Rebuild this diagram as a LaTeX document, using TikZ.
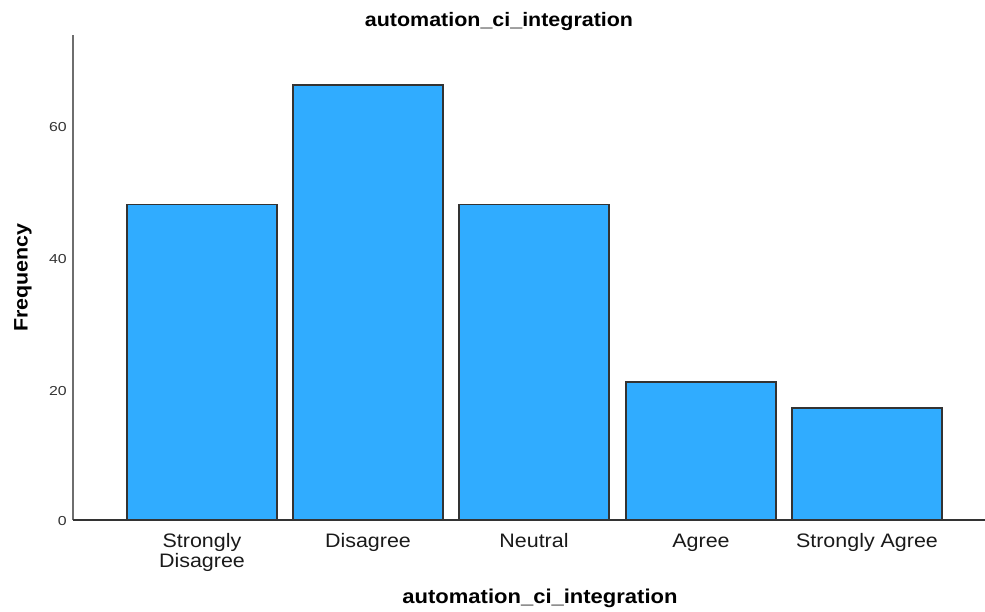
\documentclass[tikz,border=0pt]{standalone}
\usepackage{fontspec}
\setmainfont{Liberation Sans}[FakeStretch=1.1]
\newfontfamily\tickfont{Liberation Sans}[FakeStretch=1.22]
\definecolor{barblue}{HTML}{30ACFF}
\definecolor{barline}{HTML}{333333}
\definecolor{axisgray}{HTML}{6E6E6E}
\definecolor{txt}{HTML}{1A1A1A}
\begin{document}
\begin{tikzpicture}[x=1pt,y=-1pt,
  bar/.style={fill=barblue,draw=barline,line width=1.4pt},
  ticklab/.style={anchor=east,inner sep=0pt,text=barline,font=\tickfont\fontsize{13}{14}\selectfont},
  catlab/.style={anchor=base,inner sep=0pt,align=center,text=txt,font=\fontsize{19.5}{20}\selectfont},
  titlelab/.style={anchor=base,inner sep=0pt,text=black,font=\bfseries\fontsize{19.5}{22}\selectfont}]
\useasboundingbox (0,0) rectangle (985,611);
% bars
\path[bar] (127,520) rectangle (277,204.5) coordinate (b1);
\path[bar] (293,520) rectangle (443,85) coordinate (b2);
\path[bar] (459,520) rectangle (609,204.5) coordinate (b3);
\path[bar] (626,520) rectangle (776,382) coordinate (b4);
\path[bar] (792,520) rectangle (942,408) coordinate (b5);
% axes
\coordinate (o) at (73,520);
\coordinate (ytop) at (73,35);
\coordinate (xend) at (985,520);
\draw[axisgray,line width=1.8pt] (o) -- (ytop);
\draw[barline,line width=1.4pt] (o) -- (xend);
% tick labels
\node[ticklab] (t0) at (67,521) {0};
\node[ticklab] (t20) at (67,391) {20};
\node[ticklab] (t40) at (67,259) {40};
\node[ticklab] (t60) at (67,127) {60};
% category labels (base = last line's baseline)
\node[catlab] (c1) at (202,567) {Strongly\\Disagree};
\node[catlab] (c2) at (368,547) {Disagree};
\node[catlab] (c3) at (534,547) {Neutral};
\node[catlab] (c4) at (701,547) {Agree};
\node[catlab] (c5) at (867,547) {Strongly Agree};
% titles
\node[titlelab] (title) at (499,26) {automation\_ci\_integration};
\node[titlelab,font=\bfseries\fontsize{20}{22}\selectfont] (xtitle) at (540,603) {automation\_ci\_integration};
\node[titlelab,rotate=90] (ytitle) at (27.5,277.5) {Frequency};
\end{tikzpicture}
\end{document}
